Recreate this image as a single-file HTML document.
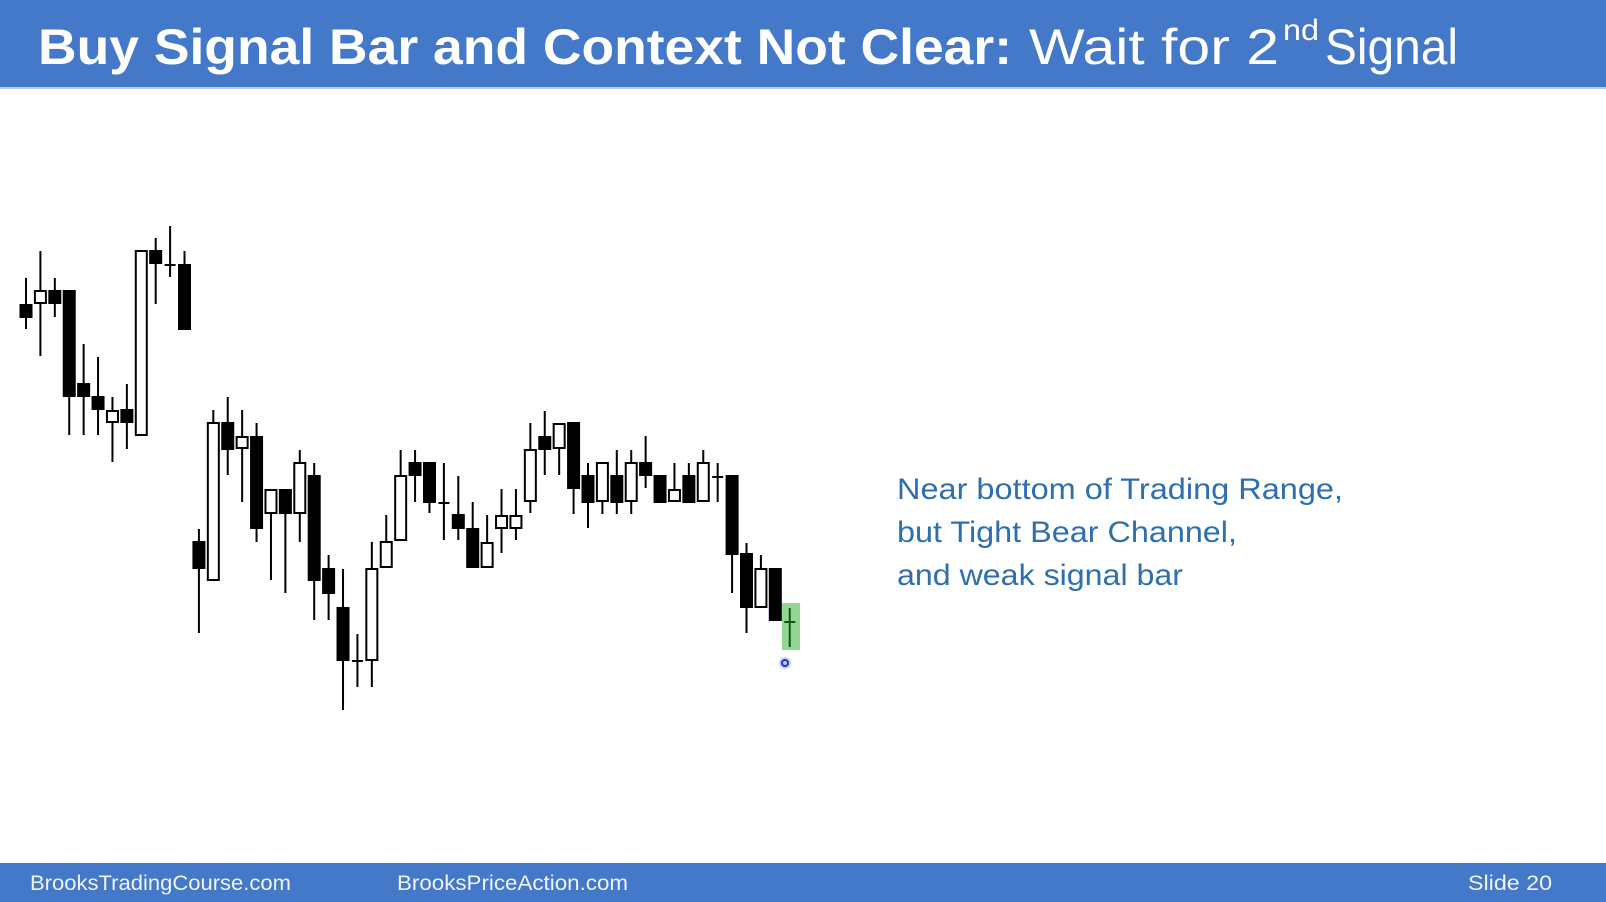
<!DOCTYPE html>
<html><head><meta charset="utf-8"><style>
html,body{margin:0;padding:0;background:#fff;}
svg{display:block;}
</style></head><body>
<svg id="slide" width="1606" height="902" viewBox="0 0 1606 902" xmlns="http://www.w3.org/2000/svg" font-family="Liberation Sans, sans-serif">
<rect x="0" y="0" width="1606" height="88" fill="#4479c9"/>
<rect x="0" y="87" width="1606" height="2" fill="#b9cdea"/>
<text x="38" y="64" fill="#fff" font-size="50" font-weight="bold" textLength="974" lengthAdjust="spacingAndGlyphs">Buy Signal Bar and Context Not Clear:</text>
<text x="1029" y="64" fill="#fff" font-size="50" textLength="250" lengthAdjust="spacingAndGlyphs">Wait for 2</text>
<text x="1283" y="40" fill="#fff" font-size="30" textLength="36" lengthAdjust="spacingAndGlyphs">nd</text>
<text x="1325" y="64" fill="#fff" font-size="50" textLength="133" lengthAdjust="spacingAndGlyphs">Signal</text>
<rect x="782" y="603" width="18" height="47" fill="#7fd17f" opacity="0.85"/>
<g id="chart"></g>
<circle cx="785" cy="663" r="6" fill="#c9cff5"/>
<circle cx="785" cy="663" r="3" fill="none" stroke="#2233cc" stroke-width="2"/>
<g fill="#2e6fb0" font-size="30">
<text x="897" y="499" textLength="446" lengthAdjust="spacingAndGlyphs">Near bottom of Trading Range,</text>
<text x="897" y="542" textLength="340" lengthAdjust="spacingAndGlyphs">but Tight Bear Channel,</text>
<text x="897" y="585" textLength="286" lengthAdjust="spacingAndGlyphs">and weak signal bar</text>
</g>
<rect x="0" y="863" width="1606" height="39" fill="#4479c9"/>
<g fill="#eef3fb" font-size="21">
<text x="30" y="890" textLength="261" lengthAdjust="spacingAndGlyphs">BrooksTradingCourse.com</text>
<text x="397" y="890" textLength="231" lengthAdjust="spacingAndGlyphs">BrooksPriceAction.com</text>
<text x="1468" y="890" textLength="84" lengthAdjust="spacingAndGlyphs">Slide  20</text>
</g>
</svg>
<script>
// prices expressed as value = 800 - pixel y
const opens  = [495,497,509,509,416,403,378,390,365,549,535,535,258,220,377,352,363,287,310,287,324,231,192,139,140,233,260,337,337,297,285,271,233,272,272,299,363,352,377,324,299,324,299,337,324,299,324,299,323,324,246,193,231,178];
const closes = [483,509,497,404,404,391,389,378,549,537,535,471,232,377,351,363,272,310,287,337,220,207,140,139,231,258,324,325,298,297,272,233,257,284,284,350,351,376,312,298,337,298,337,325,298,310,298,337,323,246,193,231,180,178];
const highs  = [522,549,522,509,456,443,403,416,549,562,574,549,271,390,403,390,377,310,310,350,337,245,231,166,258,285,350,350,337,337,324,298,285,311,311,377,389,377,377,337,337,350,350,364,324,337,337,350,337,324,257,245,231,192];
const lows   = [471,444,483,365,365,365,338,351,365,496,523,471,167,220,325,298,258,220,207,258,180,180,90,113,113,233,260,298,287,260,260,233,233,247,260,287,325,325,286,272,286,286,286,312,298,299,298,299,298,207,167,193,180,153];
const x0 = 26, step = 14.41, bw = 11;
const xOf = i => x0 + i * step;
const yOf = p => 800 - p;
const g = document.getElementById('chart');
const NS = 'http://www.w3.org/2000/svg';
for (let i = 0; i < closes.length; i++) {
  const o = opens[i], c = closes[i], h = highs[i], l = lows[i];
  const x = xOf(i);
  const last = i === closes.length - 1;
  const col = last ? '#1d4d1d' : '#000';
  const w = document.createElementNS(NS, 'line');
  
  
  w.setAttribute('x1', x); w.setAttribute('x2', x);
  w.setAttribute('y1', yOf(h)); w.setAttribute('y2', yOf(l));
  w.setAttribute('stroke', col); w.setAttribute('stroke-width', '2');
  g.appendChild(w);
  const top = yOf(Math.max(o, c)), bot = yOf(Math.min(o, c));
  if (bot - top < 2) {
    const d = document.createElementNS(NS, 'line');
    
    
    d.setAttribute('x1', x - bw / 2); d.setAttribute('x2', x + bw / 2);
    d.setAttribute('y1', yOf(c)); d.setAttribute('y2', yOf(c));
    d.setAttribute('stroke', col); d.setAttribute('stroke-width', '2');
    g.appendChild(d);
  } else {
    const r = document.createElementNS(NS, 'rect');
    
    
    r.setAttribute('x', x - bw / 2); r.setAttribute('width', bw);
    r.setAttribute('y', top); r.setAttribute('height', bot - top);
    r.setAttribute('fill', c > o ? '#fff' : '#000');
    r.setAttribute('stroke', '#000'); r.setAttribute('stroke-width', '2');
    g.appendChild(r);
  }
}
</script>
</body></html>
